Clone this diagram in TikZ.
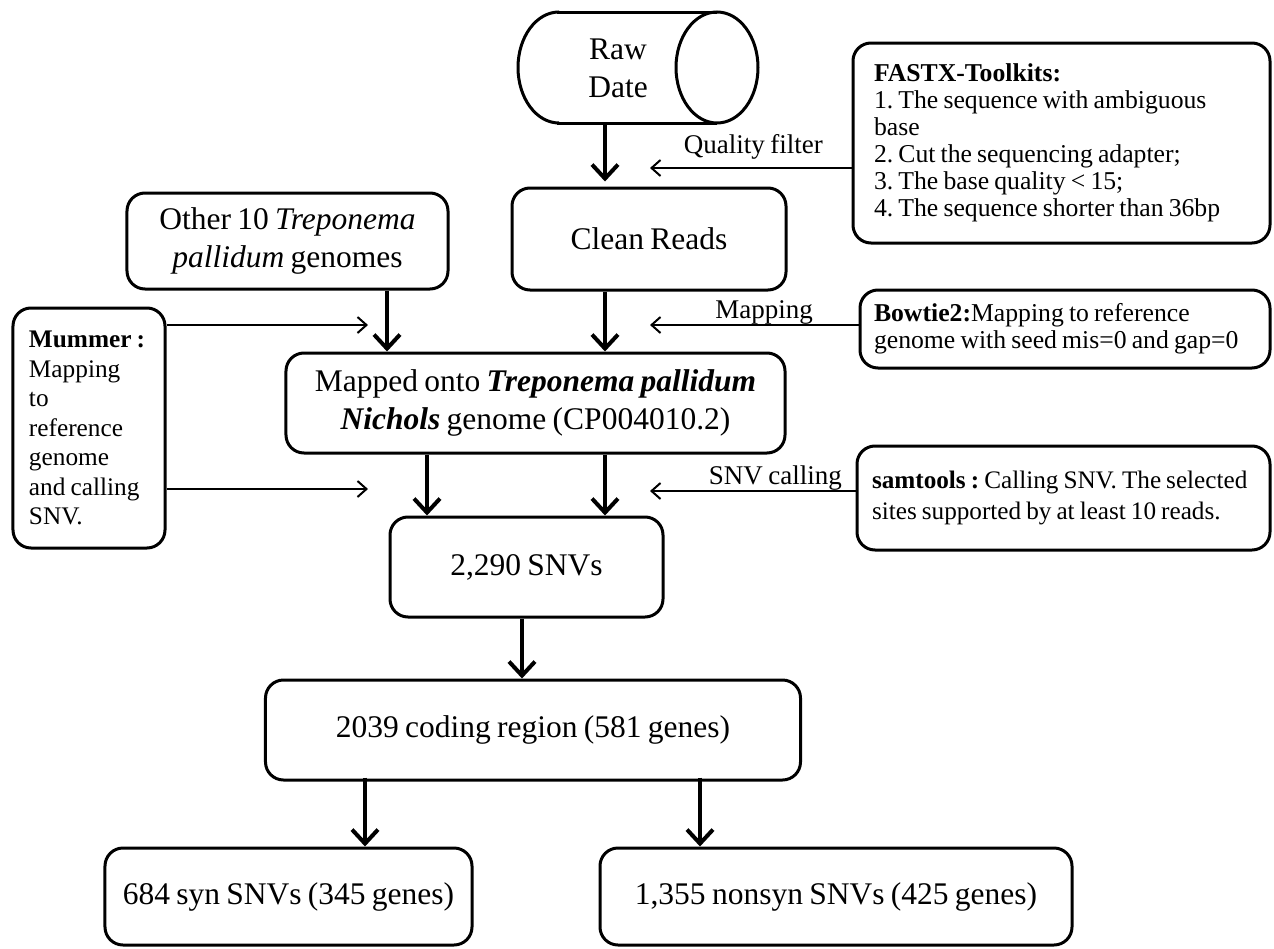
\documentclass[tikz,border=0pt]{standalone}
\usepackage{fontspec}
\setmainfont{Liberation Serif}[WordSpace=0.8]
\usetikzlibrary{arrows.meta}
\hyphenpenalty=10000
\exhyphenpenalty=10000
\frenchspacing
\begin{document}
\begin{tikzpicture}[x=1bp,y=-1bp,
  box/.style={draw, line width=3bp, rounded corners=18bp, inner sep=0pt, align=center,
    font=\fontsize{31.5bp}{38bp}\selectfont},
  sidebox/.style={draw, line width=3bp, rounded corners=18bp, inner ysep=0pt, align=flush left,
    font=\fontsize{25.7bp}{27bp}\selectfont\frenchspacing},
  bigarrow/.style={line width=4bp, -{Straight Barb[length=14bp,width=26bp]}},
  thinarrow/.style={line width=2bp, -{Straight Barb[length=9bp,width=16bp]}},
  lbl/.style={font=\fontsize{27bp}{30bp}\selectfont, inner sep=0pt}
]
\useasboundingbox[fill=white] (0,0) rectangle (1274,949);

% column helpers
\coordinate (xa) at (605,0);
\coordinate (xb) at (387,0);
\coordinate (xc) at (427,0);
\coordinate (xd) at (522,0);
\coordinate (xe) at (365,0);
\coordinate (xf) at (700,0);

% Raw data cylinder
\begin{scope}
  \clip (500,0) rectangle (559,140);
  \draw[line width=3bp] (559,67.5) ellipse [x radius=41, y radius=55.5];
\end{scope}
\draw[line width=3bp] (557,12) -- (717,12);
\draw[line width=3bp] (557,123) -- (717,123);
\draw[line width=3bp] (717,67.5) ellipse [x radius=41, y radius=55.5];
\node[align=center, inner sep=0pt, minimum height=111bp, font=\fontsize{31.5bp}{38bp}\selectfont] (raw) at (618,68) {Raw\\Date};

% main boxes
\node[box, minimum width=274bp, minimum height=102bp] (clean) at (649,239) {Clean Reads};
\node[box, minimum width=321bp, minimum height=96bp] (other) at (287.5,241) {Other 10 \textit{Treponema}\\\textit{pallidum} genomes};
\node[box, minimum width=499bp, minimum height=100bp] (mapped) at (535.5,403) {Mapped onto \textbf{\textit{Treponema pallidum}}\\\textbf{\textit{Nichols}} genome (CP004010.2)};
\node[box, minimum width=273bp, minimum height=100bp] (snv) at (526.5,567) {2,290 SNVs};
\node[box, minimum width=535bp, minimum height=100bp] (coding) at (533,730) {2039 coding region (581 genes)};
\node[box, minimum width=367bp, minimum height=97bp] (syn) at (288.5,896.5) {684 syn SNVs (345 genes)};
\node[box, minimum width=472bp, minimum height=97bp] (nonsyn) at (836,896.5) {1,355 nonsyn SNVs (425 genes)};

% side boxes
\node[sidebox, text width=375bp, inner xsep=21bp, minimum height=200bp] (fastx) at (1061.5,143)
  {\textbf{FASTX-Toolkits:}\\1. The sequence with ambiguous\\base\\2. Cut the sequencing adapter;\\3. The base quality < 15;\\4. The sequence shorter than 36bp};
\node[sidebox, text width=382bp, inner xsep=14bp, minimum height=78bp] (bowtie) at (1065,329)
  {\textbf{Bowtie2:}Mapping to reference\\genome with seed mis=0 and gap=0};
\node[sidebox, text width=383bp, inner xsep=15bp, minimum height=104bp,
  font=\fontsize{25.2bp}{31bp}\selectfont] (samtools) at (1063.5,498)
  {\textbf{samtools :} Calling SNV. The selected\\sites supported by at least 10 reads.};
\node[sidebox, text width=120bp, inner xsep=16bp, minimum height=240bp,
  font=\fontsize{25.3bp}{29.5bp}\selectfont] (mummer) at (89,428)
  {\textbf{Mummer :}\\Mapping\\to\\reference\\genome\\and calling\\SNV.};

% labels
\node[lbl, anchor=east] (ql) at (823,147) {Quality filter};
\node[lbl, anchor=east] (ml) at (813,312) {Mapping};
\node[lbl, anchor=east] (sl) at (842,478) {SNV calling};

% thin arrow targets
\coordinate (qf) at (650,168);
\coordinate (mp) at (650,325);
\coordinate (sc) at (650,491);
\coordinate (m1) at (368,325);
\coordinate (m2) at (368,489);

% thick arrows
\draw[bigarrow] (raw.south -| xa) -- ([yshift=5bp]clean.north -| xa);
\draw[bigarrow] (other.south -| xb) -- (mapped.north -| xb);
\draw[bigarrow] (clean.south -| xa) -- (mapped.north -| xa);
\draw[bigarrow] (mapped.south -| xc) -- (snv.north -| xc);
\draw[bigarrow] (mapped.south -| xa) -- (snv.north -| xa);
\draw[bigarrow] (snv.south -| xd) -- (coding.north -| xd);
\draw[bigarrow] ([yshift=4bp]coding.south -| xe) -- (syn.north -| xe);
\draw[bigarrow] ([yshift=4bp]coding.south -| xf) -- (nonsyn.north -| xf);

% thin arrows
\draw[thinarrow] (fastx.west |- qf) -- (qf);
\draw[thinarrow] (bowtie.west |- mp) -- (mp);
\draw[thinarrow] (samtools.west |- sc) -- (sc);
\draw[thinarrow] (mummer.east |- m1) -- (m1);
\draw[thinarrow] (mummer.east |- m2) -- (m2);
\end{tikzpicture}
\end{document}
